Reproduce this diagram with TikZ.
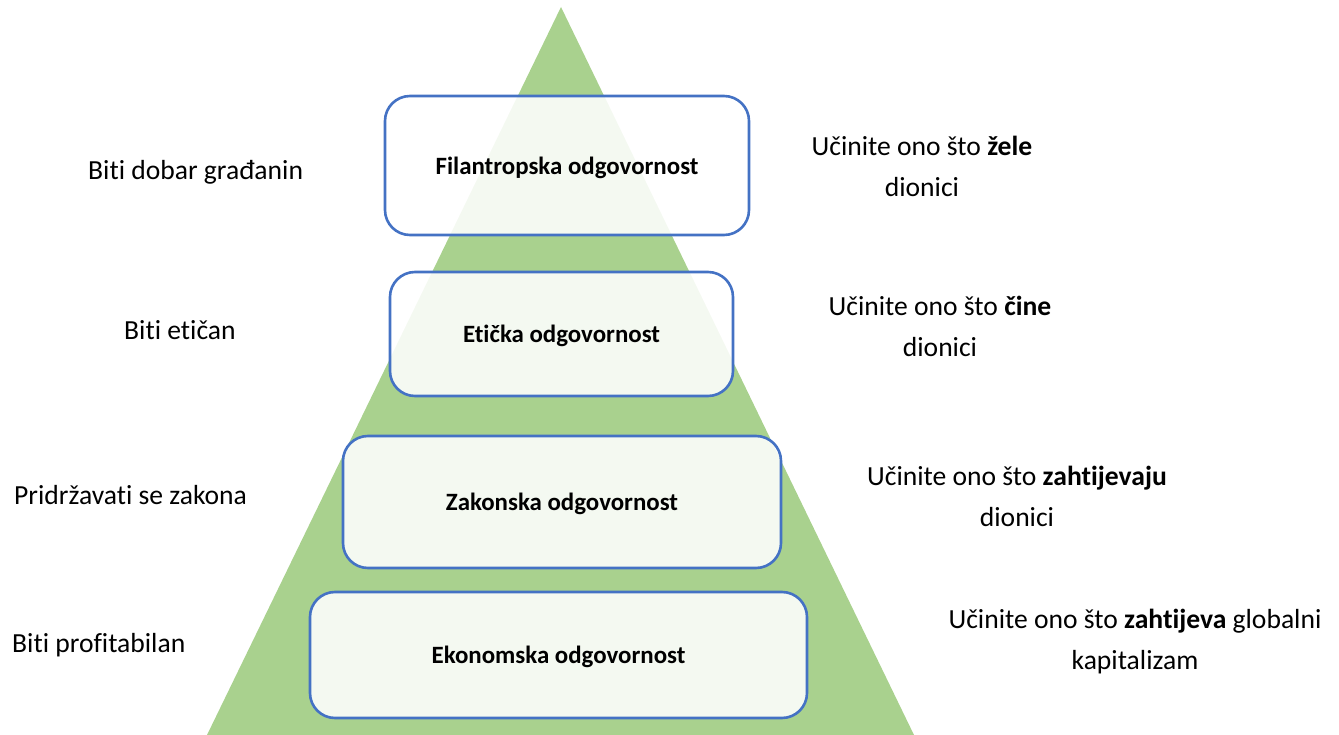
\documentclass[tikz,border=0pt]{standalone}
\usepackage{fontspec}
\setmainfont{Carlito}[RawFeature={-liga;-clig;-calt}]
\definecolor{pyrgreen}{HTML}{A9D18E}
\definecolor{boxblue}{HTML}{4472C4}
\def\labelsize{\fontsize{27.6}{41}\selectfont}

\begin{document}
\begin{tikzpicture}[x=1pt,y=-1pt]
      \tikzstyle{level box}=[rectangle,rounded corners=25pt,draw=boxblue,line width=2.6pt,
                             fill=white,fill opacity=0.88,text opacity=1,inner sep=0pt,
                             text depth=0pt,font=\fontsize{24.9}{30}\selectfont\bfseries]
      \tikzstyle{left label}=[anchor=west,inner sep=0pt,font=\labelsize]
      \tikzstyle{right label}=[align=center,inner sep=0pt,font=\labelsize]

      \useasboundingbox (0,0) rectangle (1339,735);

      % the pyramid
      \fill[pyrgreen] (561,7) -- (914,735) -- (207,735) -- cycle;

      % the four levels of responsibility
      \foreach \name/\x/\y/\w/\h/\txt in {
          phil/567/165.5/364/139/Filantropska odgovornost,
          eth/561.5/334/343/124/Etička odgovornost,
          leg/562/502/438/132/Zakonska odgovornost,
          eco/558.5/655/497/126/Ekonomska odgovornost}
          \node[level box,minimum width=\w pt,minimum height=\h pt] (\name) at (\x,\y) {\txt};

      % what it means (left)
      \node[left label] (phil-l) at (88,172) {Biti dobar građanin};
      \node[left label] (eth-l) at (124,330) {Biti etičan};
      \node[left label] (leg-l) at (14,495) {Pridržavati se zakona};
      \node[left label] (eco-l) at (12,645) {Biti profitabilan};

      % what is expected (right)
      \node[right label] (phil-r) at (922,166) {Učinite ono što \textbf{žele}\\dionici};
      \node[right label] (eth-r) at (940,326) {Učinite ono što \textbf{čine}\\dionici};
      \node[right label] (leg-r) at (1017,496) {Učinite ono što \textbf{zahtijevaju}\\dionici};
      \node[right label] (eco-r) at (1135,642) {Učinite ono što \textbf{zahtijeva} globalni\\kapitalizam};
\end{tikzpicture}
\end{document}
